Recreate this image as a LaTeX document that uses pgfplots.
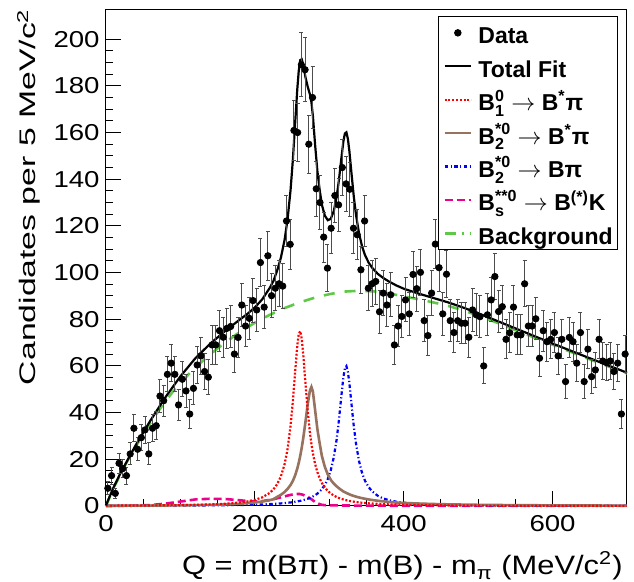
\documentclass[border=0pt]{standalone}
\usepackage{fontspec}
\setmainfont{Liberation Sans}
\usepackage{amsmath}
\usepackage{graphicx}
\usepackage{pgfplots}
\usepackage{pgfplotstable}
\pgfplotsset{compat=1.18}

\definecolor{fitbrown}{RGB}{150,114,95}
\definecolor{bkggreen}{RGB}{96,200,72}
\newcommand{\Bst}[2]{$\text{B}^{\text{#1}}_{\text{#2}}$}

\pgfplotsset{
    lineleg/.style={legend image code/.code={\draw[##1] (0pt,0pt) -- (13.3pt,0pt);}},
    dataleg/.style={legend image code/.code={\draw[##1] plot coordinates {(6.65pt,0pt)};}},
}

% data: bin centre, candidates, error
\pgfplotstableread{
x y e
2.5 7.6 2.8
7.5 13 3.6
12.5 5.4 2.3
17.5 18.3 4.3
22.5 16 4.0
27.5 13 3.6
32.5 22.3 4.7
37.5 33.3 5.8
42.5 24.3 4.9
47.5 29.3 5.4
52.5 32.6 5.7
57.5 22.3 4.7
62.5 33.3 5.8
67.5 34.4 5.9
72.5 47.1 6.9
77.5 45.1 6.7
82.5 56.4 7.5
87.5 61.2 7.8
92.5 56.4 7.5
97.5 43.3 6.6
102.5 54.3 7.4
107.5 49.3 7.0
112.5 39.4 6.3
117.5 50.4 7.1
122.5 60.4 7.8
127.5 64.3 8.0
132.5 57.6 7.6
137.5 55.2 7.4
142.5 69 8.3
147.5 69 8.3
152.5 75.1 8.7
157.5 72.3 8.5
162.5 76.1 8.7
167.5 76.9 8.8
172.5 65.1 8.1
177.5 72.2 8.5
182.5 86.1 9.3
187.5 77.1 8.8
192.5 80.4 9.0
197.5 88 9.4
202.5 84 9.2
207.5 104.3 10.2
212.5 85.2 9.2
217.5 107.2 10.4
222.5 90.1 9.5
227.5 93.3 9.7
232.5 95.2 9.8
237.5 94.2 9.7
242.5 122.1 11.0
247.5 112.1 10.6
252.5 160.9 12.7
257.5 160 12.6
262.5 189 13.7
267.5 186.9 13.7
272.5 155 12.4
277.5 175 13.2
282.5 135.9 11.7
287.5 130 11.4
292.5 115.2 10.7
297.5 101.9 10.1
302.5 119 10.9
307.5 133 11.5
312.5 129 11.4
317.5 145 12.0
322.5 138 11.7
327.5 135.7 11.6
332.5 119 10.9
337.5 116.2 10.8
342.5 101.2 10.1
347.5 122.1 11.0
352.5 93.3 9.7
357.5 95.2 9.8
362.5 96.2 9.8
367.5 83.2 9.1
372.5 91.2 9.5
377.5 86.1 9.3
382.5 90.5 9.5
387.5 69 8.3
392.5 77.1 8.8
397.5 81.2 9.0
402.5 88.3 9.4
407.5 82.3 9.1
412.5 99.2 10.0
417.5 93.1 9.6
422.5 100.1 10.0
427.5 79.4 8.9
432.5 73 8.5
437.5 91.2 9.5
442.5 112.2 10.6
447.5 102.1 10.1
452.5 82.3 9.1
457.5 99.3 10.0
462.5 79.4 8.9
467.5 74.3 8.6
472.5 79.4 8.9
477.5 78.3 8.8
482.5 78.3 8.8
487.5 72.3 8.5
492.5 84 9.2
497.5 81.9 9.0
502.5 81.1 9.0
507.5 60 7.7
512.5 81.9 9.0
517.5 88.3 9.4
522.5 98.3 9.9
527.5 83.3 9.1
532.5 85.4 9.2
537.5 71.4 8.4
542.5 74.2 8.6
547.5 85.2 9.2
552.5 73.3 8.6
557.5 73.3 8.6
562.5 95.2 9.8
567.5 77.1 8.8
572.5 77.1 8.8
577.5 80.2 9.0
582.5 63.3 8.0
587.5 75.1 8.7
592.5 70.4 8.4
597.5 71.4 8.4
602.5 74.3 8.6
607.5 64.3 8.0
612.5 71.4 8.4
617.5 53.3 7.3
622.5 72.2 8.5
627.5 70.4 8.4
632.5 61.2 7.8
637.5 74.3 8.6
642.5 53.3 7.3
647.5 67.2 8.2
652.5 55.4 7.4
657.5 58.3 7.6
662.5 71.4 8.4
667.5 62.1 7.9
672.5 61.4 7.8
677.5 62.1 7.9
682.5 57.6 7.6
687.5 61.2 7.8
692.5 39.4 6.3
697.5 65.1 8.1
}\datatab

% fit components
\pgfplotstableread{
x red brn blu mag tot
0 0.15 0.10 0.08 0.00 0.33
5 0.15 0.10 0.09 0.01 4.15
10 0.16 0.11 0.09 0.02 7.85
20 0.17 0.12 0.09 0.05 14.43
40 0.20 0.15 0.11 0.15 26.10
60 0.25 0.18 0.12 0.40 36.75
80 0.30 0.22 0.15 1.00 46.67
100 0.38 0.28 0.17 1.90 55.53
120 0.50 0.36 0.21 2.80 63.27
140 0.68 0.48 0.26 3.10 69.52
160 0.97 0.65 0.33 3.00 74.95
180 1.50 0.95 0.42 2.45 79.92
190 1.94 1.20 0.49 2.10 82.28
200 2.61 1.50 0.57 1.90 85.08
210 3.70 1.90 0.67 2.10 88.57
220 5.60 2.50 0.81 2.60 93.41
225 7.12 2.90 0.90 2.90 96.42
230 9.34 3.90 1.00 3.30 100.89
235 12.67 4.80 1.10 3.70 106.37
240 17.95 6.00 1.24 4.10 114.09
244 24.50 7.30 1.40 4.45 122.92
248 34.40 9.00 1.50 4.75 135.42
251 44.60 10.70 1.65 4.95 147.99
254 56.90 13.00 1.80 5.10 163.24
257 68.60 16.00 1.95 5.15 178.50
259 73.70 18.50 2.10 5.15 186.47
261 74.90 21.50 2.20 5.10 191.00
263 71.60 25.00 2.30 4.95 191.39
265 65.00 29.00 2.50 4.75 188.95
268 52.60 36.00 2.80 4.35 183.73
271 40.90 43.50 3.10 3.85 179.64
274 31.50 49.50 3.50 3.30 176.36
276 26.60 51.00 3.70 2.90 173.05
278 22.60 49.00 4.10 2.40 167.07
281 17.95 41.00 4.60 1.75 154.60
284 14.50 33.00 5.30 1.20 143.55
287 11.90 27.00 6.20 0.80 135.64
290 9.89 21.50 7.20 0.50 129.14
294 7.91 16.80 9.00 0.35 124.41
298 6.45 13.50 11.60 0.30 122.45
302 5.35 11.20 15.30 0.27 123.02
306 4.50 9.60 20.80 0.25 126.30
310 3.84 8.40 28.70 0.24 132.60
313 3.43 7.60 36.90 0.23 139.70
316 3.09 6.90 46.40 0.22 148.30
319 2.79 6.20 55.30 0.21 156.30
321 2.61 5.90 59.00 0.20 159.60
323 2.46 5.60 59.90 0.20 160.10
325 2.31 5.30 57.50 0.20 157.30
327 2.18 5.00 52.70 0.19 152.10
330 2.00 4.60 43.20 0.19 142.00
333 1.84 4.30 34.00 0.18 132.40
336 1.70 4.00 26.50 0.18 124.50
340 1.54 3.65 19.20 0.17 116.80
344 1.40 3.35 14.20 0.16 111.30
348 1.27 3.10 10.80 0.16 107.50
353 1.14 2.80 8.00 0.15 104.20
358 1.03 2.55 6.20 0.15 101.90
365 0.90 2.25 4.40 0.14 99.50
372 0.79 2.00 3.30 0.13 97.80
380 0.69 1.75 2.50 0.12 96.20
390 0.59 1.50 1.84 0.11 94.50
400 0.51 1.30 1.40 0.10 93.10
420 0.39 1.05 0.90 0.09 91.00
440 0.31 0.85 0.62 0.08 89.10
460 0.25 0.70 0.45 0.08 87.20
480 0.21 0.60 0.35 0.07 85.00
500 0.17 0.50 0.27 0.07 82.60
550 0.12 0.35 0.17 0.06 76.10
600 0.09 0.26 0.12 0.05 69.60
650 0.07 0.20 0.08 0.05 63.30
700 0.05 0.16 0.06 0.04 57.10
}\fittab

\pgfplotstableread{
x bkg
0 0
5 3.8
10 7.5
20 14
30 20
40 25.5
50 30.8
60 35.8
70 40.5
80 45
90 49
100 52.8
120 59.4
140 65
160 70
180 74.6
200 78.5
220 81.9
240 84.8
260 87.2
280 89.2
300 90.75
320 91.85
340 92.2
360 91.95
380 91.1
400 89.8
420 88.6
440 87.2
460 85.7
480 83.8
500 81.6
520 79.2
540 76.7
560 74.1
580 71.6
600 69.1
620 66.6
640 64.1
660 61.6
680 59.2
700 56.8
}\bkgtab

\begin{document}
\begin{tikzpicture}
\useasboundingbox (-53pt,-38pt) rectangle (264pt,253pt);
\begin{axis}[
    scale only axis,
    width=260.5pt, height=248pt,
    xmin=0, xmax=700, ymin=0, ymax=212.5,
    clip=false,
    axis line style={line width=0.5pt},
    tick align=inside,
    xtick pos=bottom, ytick pos=left,
    xtick={0,200,400,600},
    ytick={0,20,...,200},
    minor x tick num=3, minor y tick num=3,
    major tick length=7.5pt, minor tick length=3.5pt,
    tick style={line width=0.5pt, black},
    /pgf/number format/assume math mode=true,
    ticklabel style={font=\fontsize{11.5}{12}\selectfont},
    xticklabel={\scalebox{1.2}[1]{\pgfmathprintnumber{\tick}}},
    yticklabel={\scalebox{1.2}[1]{\pgfmathprintnumber{\tick}}},
    xticklabel style={inner sep=0pt, yshift=-4.5pt},
    yticklabel style={inner sep=0pt, xshift=-3pt},
    xlabel={\scalebox{1.16}[1]{Q = m(Bπ) - m(B) - m\textsubscript{π} (MeV/c\textsuperscript{2})}},
    xlabel style={at={(axis description cs:0.9923,0)}, anchor=base east,
        inner sep=0pt, yshift=-34.5pt, font=\fontsize{13.3}{14}\selectfont},
    ylabel={\scalebox{1.5}[1]{Candidates per 5 MeV/c\textsuperscript{2}}},
    ylabel style={at={(axis description cs:-0.1344,1.004)}, anchor=base east,
        inner sep=0pt, font=\fontsize{11.25}{12}\selectfont},
    lineleg,
    legend cell align=left,
    legend style={at={(axis description cs:0.983,0.988)}, anchor=north east,
        draw=black, line width=0.5pt, fill=white,
        font=\bfseries\fontsize{11.5}{13}\selectfont,
        inner xsep=2.5pt, inner ysep=2.2pt, row sep=4.7pt, column sep=3pt,
        nodes={inner sep=0pt, text height=11.5pt, text depth=0.5pt}},
]
% legend entries in the reference order
\addlegendimage{dataleg, only marks, mark=*, mark size=1.6pt, black}
\addlegendentry{Data}
\addlegendimage{black, line width=1.1pt}
\addlegendentry{Total Fit}
\addlegendimage{red, line width=1.1pt, dash pattern=on 1pt off 0.9pt}
\addlegendentry{\Bst{0}{1} $\rightarrow$ B\textsuperscript{*}π}
\addlegendimage{fitbrown, line width=1.3pt}
\addlegendentry{\Bst{*0}{2} $\rightarrow$ B\textsuperscript{*}π}
\addlegendimage{blue, line width=1.1pt, dash pattern=on 1.8pt off 1.2pt on 0.6pt off 1.2pt}
\addlegendentry{\Bst{*0}{2} $\rightarrow$ Bπ}
\addlegendimage{magenta, line width=1.3pt, dash pattern=on 4pt off 2pt}
\addlegendentry{\Bst{**0}{s} $\rightarrow$ B\textsuperscript{(*)}K}
\addlegendimage{bkggreen, line width=1.3pt, dash pattern=on 5.5pt off 3pt on 1pt off 3pt}
\addlegendentry{Background}

\addplot[forget plot, bkggreen, line width=1.3pt, dash pattern=on 5.5pt off 5pt]
    table[x=x, y=bkg] {\bkgtab};
\addplot[forget plot, magenta, line width=1.3pt, dash pattern=on 4pt off 2pt]
    table[x=x, y=mag] {\fittab};
\addplot[forget plot, blue, line width=1.1pt, dash pattern=on 1.8pt off 1.2pt on 0.6pt off 1.2pt]
    table[x=x, y=blu] {\fittab};
\addplot[forget plot, fitbrown, line width=1.3pt]
    table[x=x, y=brn] {\fittab};
\addplot[forget plot, red, line width=1.1pt, dash pattern=on 1pt off 0.9pt]
    table[x=x, y=red] {\fittab};
\addplot[forget plot, black, line width=1.1pt]
    table[x=x, y=tot] {\fittab};

\addplot[forget plot, only marks, mark=*, mark size=1.6pt, black,
    error bars/.cd, y dir=both, y explicit,
    error bar style={black!70, line width=0.5pt},
    error mark options={rotate=90, mark size=1pt, black!70, line width=0.5pt}]
    table[x=x, y=y, y error=e] {\datatab};
\end{axis}
\end{tikzpicture}
\end{document}
